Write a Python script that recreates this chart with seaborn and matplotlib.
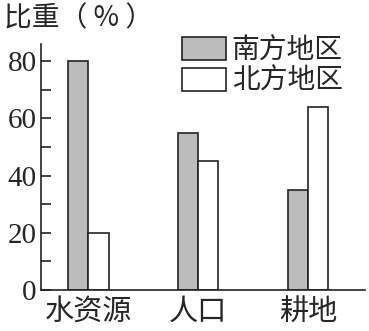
import matplotlib
matplotlib.use("Agg")
import matplotlib.pyplot as plt
import seaborn as sns
import pandas as pd
from matplotlib.patches import Patch

categories = ["水资源", "人口", "耕地"]
south = [80, 55, 35]
north = [20, 45, 64]
series = ["南方地区", "北方地区"]
yticks = [0, 20, 40, 60, 80]

sns.set_theme(style="white")
plt.rcParams['font.family'] = ['Noto Sans CJK SC', 'DejaVu Sans']

df = pd.DataFrame({
    "cat": categories * 2,
    "val": south + north,
    "region": [series[0]] * 3 + [series[1]] * 3,
})

fig = plt.figure(figsize=(3.69, 3.31), dpi=100)
ax = fig.add_axes([0.111, 0.124, 0.878, 0.743])
colors = {series[0]: "#bcbcbc", series[1]: "#ffffff"}
sns.barplot(data=df, x="cat", y="val", hue="region", order=categories,
            hue_order=series, palette=colors, width=0.37, ax=ax,
            edgecolor="#222222", linewidth=1.2, legend=False, saturation=1)

ax.set_xlim(-0.43, 2.52)
ax.set_ylim(0, 86)
ax.set_yticks(range(0, 81, 10))
ax.set_yticklabels([str(v) if v in yticks else "" for v in range(0, 81, 10)],
                   family=["Liberation Serif"], fontsize=21)
ax.tick_params(axis="y", direction="in", length=7, width=1.2, color="#222222", pad=3, left=True)
ax.tick_params(axis="x", length=0, pad=5, labelsize=21)
ax.set_xlabel("")
ax.set_ylabel("")
for s in ["top", "right"]:
    ax.spines[s].set_visible(False)
for s in ["left", "bottom"]:
    ax.spines[s].set_color("#222222")
    ax.spines[s].set_linewidth(1.2)

handles = [Patch(facecolor=colors[s], edgecolor="#222222", linewidth=1.2) for s in series]
ax.legend(handles, series, loc="upper left", bbox_to_anchor=(0.40, 1.08), frameon=False,
          fontsize=20, handlelength=1.6, handleheight=0.9, handletextpad=0.2,
          labelspacing=0.02, borderaxespad=0)

fig.text(0.01, 0.99, "比重（ % ）", fontsize=20, va="top", ha="left")

fig.savefig("out.png", dpi=100, facecolor="white")
